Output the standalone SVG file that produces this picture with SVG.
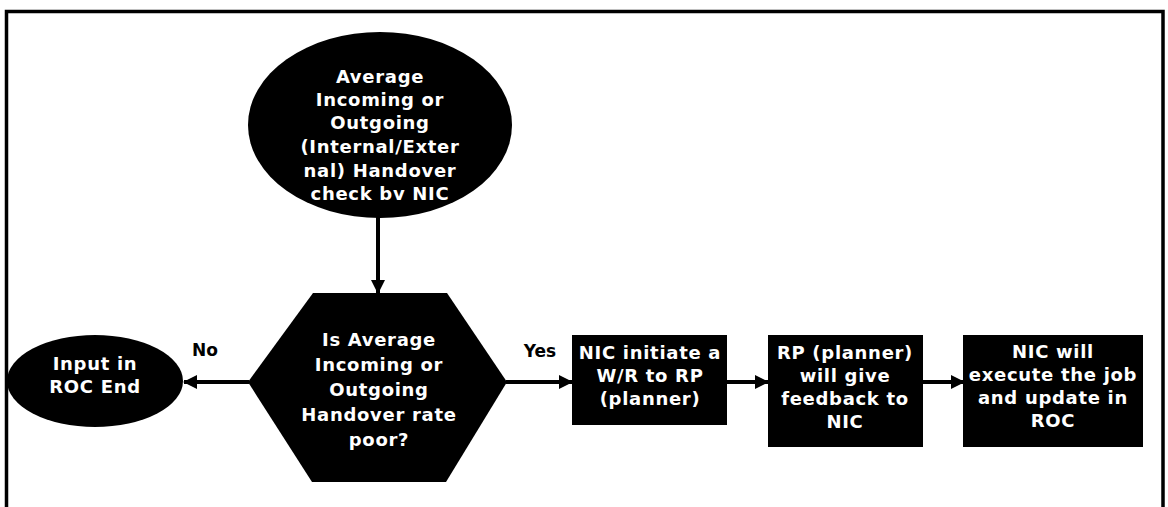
<svg xmlns="http://www.w3.org/2000/svg" width="1168" height="507" viewBox="0 0 1168 507">
  <style>
    .shape { fill: #000; stroke: none; }
    .t { font-family: "DejaVu Sans", "Liberation Sans", sans-serif; font-weight: bold; font-size: 18px; fill: #fff; text-anchor: middle; letter-spacing: 0.7px; }
    .lbl { font-family: "DejaVu Sans", "Liberation Sans", sans-serif; font-weight: bold; font-size: 17px; fill: #000; text-anchor: middle; }
    .conn { stroke: #000; stroke-width: 4; fill: none; marker-end: url(#arrow); }
  </style>
  <defs>
    <marker id="arrow" markerUnits="userSpaceOnUse" markerWidth="14" markerHeight="14" refX="13" refY="7" orient="auto">
      <path d="M0,0 L14,7 L0,14 Z" fill="#000"/>
    </marker>
  </defs>
  <rect width="1168" height="507" fill="#fff"/>
  <path d="M6.5,507 V11.5 H1163 V507" fill="none" stroke="#000" stroke-width="3.5"/>

  <g id="connectors">
    <line class="conn" x1="378" y1="216" x2="378" y2="293"/>
    <line class="conn" x1="249" y1="382" x2="184" y2="382"/>
    <line class="conn" x1="506" y1="382" x2="572" y2="382"/>
    <line class="conn" x1="727" y1="382" x2="768" y2="382"/>
    <line class="conn" x1="923" y1="382" x2="964" y2="382"/>
    <text class="lbl" x="205" y="356">No</text>
    <text class="lbl" x="540" y="357">Yes</text>
  </g>

  <g id="start">
    <ellipse class="shape" cx="380" cy="125" rx="132" ry="93"/>
    <text class="t" x="380" y="83">Average</text>
    <text class="t" x="380" y="106">Incoming or</text>
    <text class="t" x="380" y="129">Outgoing</text>
    <text class="t" x="380" y="153">(Internal/Exter</text>
    <text class="t" x="380" y="177">nal) Handover</text>
    <text class="t" x="380" y="200">check bv NIC</text>
  </g>

  <g id="decision">
    <polygon class="shape" points="313,293 447,293 507,382 446,482 312,482 248,382"/>
    <text class="t" x="379" y="346">Is Average</text>
    <text class="t" x="379" y="371">Incoming or</text>
    <text class="t" x="379" y="396">Outgoing</text>
    <text class="t" x="379" y="421">Handover rate</text>
    <text class="t" x="379" y="446">poor?</text>
  </g>

  <g id="end">
    <ellipse class="shape" cx="95" cy="381" rx="88" ry="46"/>
    <text class="t" x="95" y="370">Input in</text>
    <text class="t" x="95" y="393">ROC End</text>
  </g>

  <g id="step1">
    <rect class="shape" x="572" y="335" width="155" height="90"/>
    <text class="t" x="650" y="359">NIC initiate a</text>
    <text class="t" x="650" y="382">W/R to RP</text>
    <text class="t" x="650" y="405">(planner)</text>
  </g>

  <g id="step2">
    <rect class="shape" x="768" y="335" width="155" height="112"/>
    <text class="t" x="845" y="359">RP (planner)</text>
    <text class="t" x="845" y="382">will give</text>
    <text class="t" x="845" y="405">feedback to</text>
    <text class="t" x="845" y="428">NIC</text>
  </g>

  <g id="step3">
    <rect class="shape" x="963" y="335" width="180" height="112"/>
    <text class="t" x="1053" y="358">NIC will</text>
    <text class="t" x="1053" y="381">execute the job</text>
    <text class="t" x="1053" y="404">and update in</text>
    <text class="t" x="1053" y="427">ROC</text>
  </g>
</svg>
